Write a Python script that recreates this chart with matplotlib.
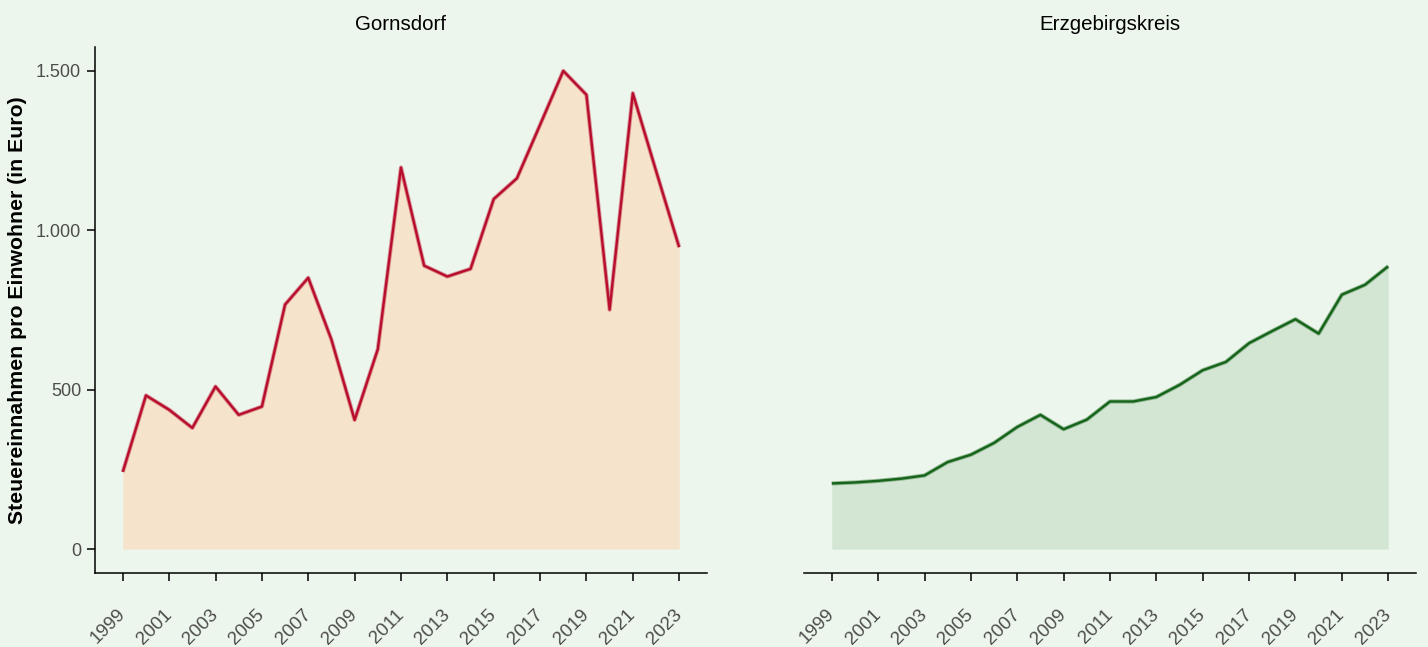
import matplotlib.pyplot as plt
from matplotlib.ticker import FuncFormatter

plt.rcParams['font.family'] = ['Liberation Sans', 'DejaVu Sans']

years = list(range(1999, 2024))
gornsdorf = [242, 482, 437, 380, 510, 421, 447, 767, 851, 657, 405, 627, 1197,
             889, 855, 879, 1098, 1163, 1331, 1500, 1425, 751, 1430, 1187, 947]
erzgebirge = [206, 209, 214, 221, 231, 273, 296, 333, 383, 421, 376, 406, 463,
              463, 477, 515, 561, 587, 646, 684, 721, 676, 798, 829, 887]
panels = ['Gornsdorf', 'Erzgebirgskreis']
y_ticks = [0, 500, 1000, 1500]

bg = '#EDF6EC'
fig = plt.figure(figsize=(14.28, 6.47), dpi=100, facecolor=bg)
ax1 = fig.add_axes([0.0665, 0.1144, 0.4286, 0.813])
ax2 = fig.add_axes([0.563, 0.1144, 0.4286, 0.813], sharey=ax1)

styles = [(gornsdorf, '#F5E3CB', '#B80D2C'), (erzgebirge, '#D3E6D3', '#15641A')]

fmt = FuncFormatter(lambda v, p: f'{int(v):,}'.replace(',', '.'))

for ax, title, (vals, fill, line) in zip([ax1, ax2], panels, styles):
    ax.set_facecolor(bg)
    ax.fill_between(years, vals, 0, color=fill, lw=0)
    ax.plot(years, vals, color=line, lw=3.0, alpha=0.4, solid_capstyle='butt')
    ax.plot(years, vals, color=line, lw=1.7, solid_capstyle='butt')
    ax.set_xlim(1997.8, 2024.2)
    ax.set_ylim(-75, 1575)
    ax.set_xticks(years[::2])
    ax.set_xticklabels([str(y) for y in years[::2]], rotation=45, ha='right',
                       va='center', rotation_mode='anchor', fontsize=13.5,
                       color='#4D4D4D')
    ax.tick_params(axis='x', length=6, width=1.4, color='#333333', pad=22)
    ax.set_title(title, fontsize=14.8, pad=12)
    for s in ['top', 'right']:
        ax.spines[s].set_visible(False)
    ax.spines['bottom'].set_linewidth(1.1)
    ax.spines['left'].set_linewidth(1.1)

ax1.set_yticks(y_ticks)
ax1.yaxis.set_major_formatter(fmt)
ax1.tick_params(axis='y', length=6, width=1.4, color='#333333', labelsize=13,
                labelcolor='#4D4D4D', pad=4)
ax1.set_ylabel('Steuereinnahmen pro Einwohner (in Euro)', fontsize=15.3,
               fontweight='bold', labelpad=6)

ax2.spines['left'].set_visible(False)
ax2.tick_params(axis='y', left=False, labelleft=False)

fig.savefig('out.png', dpi=100, facecolor=bg)
